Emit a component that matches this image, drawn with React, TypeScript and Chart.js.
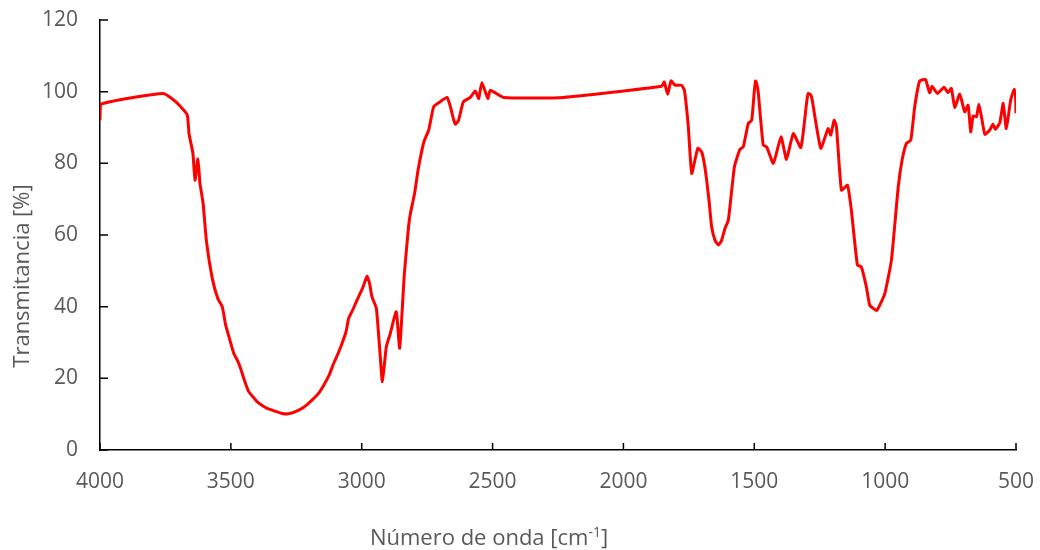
import { useEffect, useRef } from "react";
import { Chart, registerables } from "chart.js";

Chart.register(...registerables);

// FTIR spectrum: wavenumber (cm-1) and transmittance (%)
const wavenumbers = [
  4000, 3996, 3758, 3711, 3667, 3660, 3645, 3637, 3626, 3618, 3606, 3593, 3571, 3550, 3533, 3520,
  3510, 3489, 3475, 3463, 3450, 3432, 3415, 3400, 3380, 3361, 3330, 3304, 3280, 3253, 3220, 3190,
  3165, 3145, 3125, 3107, 3090, 3075, 3060, 3050, 3035, 3018, 2995, 2980, 2970, 2961, 2944, 2931,
  2921, 2906, 2891, 2868, 2855, 2837, 2821, 2814, 2798, 2785, 2770, 2760, 2744, 2725, 2700, 2674,
  2660, 2650, 2642, 2630, 2620, 2611, 2585, 2566, 2553, 2541, 2518, 2509, 2458, 2229, 1854, 1844,
  1831, 1818, 1803, 1778, 1767, 1752, 1739, 1716, 1701, 1690, 1682, 1672, 1663, 1650, 1637, 1625,
  1612, 1599, 1576, 1555, 1542, 1523, 1510, 1500, 1495, 1490, 1485, 1466, 1453, 1427, 1398, 1377,
  1351, 1322, 1300, 1294, 1285, 1279, 1246, 1218, 1208, 1195, 1186, 1167, 1144, 1129, 1106, 1091,
  1072, 1059, 1045, 1033, 1020, 1001, 976, 950, 935, 919, 902, 887, 868, 846, 830, 821,
  800, 775, 760, 747, 734, 715, 696, 683, 673, 664, 651, 642, 632, 619, 600, 588,
  579, 562, 549, 537, 520, 507, 502, 500,
];

const transmittance = [
  92, 96.5, 99.5, 97.2, 93.6, 88.3, 82.8, 75.3, 81.2, 74.4, 68.8, 58.1, 47.9, 42.3, 40, 34.9,
  32.3, 27, 25, 22.8, 19.8, 16.3, 14.8, 13.5, 12.4, 11.6, 10.8, 10.2, 10.1, 10.7, 12, 13.9,
  15.8, 18.1, 20.8, 24.2, 27, 29.8, 33, 36.7, 39, 41.8, 45.5, 48.5, 46.5, 42.8, 39.5, 27.9,
  19.1, 28.8, 32.5, 38.6, 28.4, 49.3, 62.3, 66, 71.6, 78, 83.7, 86.5, 89.3, 95.8, 97.2, 98.4,
  95.5, 92.5, 90.9, 92, 95, 97.2, 98.4, 100.2, 98.1, 102.5, 98.1, 100.4, 98.4, 98.4, 101.5, 102.7,
  99.3, 103, 101.8, 101.8, 100.4, 90.2, 77.2, 84.2, 83.2, 79.5, 75.3, 69, 62.3, 58.5, 57.2, 58.5,
  61.8, 64.2, 79, 83.9, 84.6, 91.1, 92, 100, 103, 102, 99.9, 85.1, 84.6, 80, 87.4, 81.1,
  88.3, 84.4, 97, 99.5, 99.2, 97.8, 84.2, 89.7, 87.9, 92, 90.2, 72.5, 73.9, 66.9, 51.6, 51.1,
  45.6, 40.4, 39.5, 38.9, 40.5, 43.7, 53, 73.4, 81, 85.5, 86.5, 95.8, 103, 103.4, 99.7, 101.5,
  99.5, 101.2, 99.7, 100.9, 95.6, 99.3, 94.4, 96.2, 88.8, 93.2, 93, 96.5, 93, 88.1, 89.3, 90.9,
  89.5, 91.3, 96.7, 89.7, 97.8, 100.6, 99, 94,
];

const xTickValues = [4000, 3500, 3000, 2500, 2000, 1500, 1000, 500];
const yTickValues = [0, 20, 40, 60, 80, 100, 120];

const xTitle = "Número de onda [cm";
const xTitleSup = "-1";
const xTitleEnd = "]";
const yTitle = "Transmitancia [%]";

const TEXT_COLOR = "#595959";
const FONT_FAMILY = "'Open Sans', 'DejaVu Sans', sans-serif";

// Tick marks pointing into the plot area, plus the two axis titles
const axisDecor = {
  id: "axisDecor",
  afterDraw(chart: any) {
    const { ctx, chartArea } = chart;
    const xs = chart.scales.x;
    const ys = chart.scales.y;
    ctx.save();
    ctx.strokeStyle = "#000";
    ctx.lineWidth = 1.5;
    ctx.beginPath();
    xs.ticks.forEach((t: any) => {
      const px = xs.getPixelForValue(t.value);
      ctx.moveTo(px, chartArea.bottom);
      ctx.lineTo(px, chartArea.bottom - 7);
    });
    ys.ticks.forEach((t: any) => {
      const py = ys.getPixelForValue(t.value);
      ctx.moveTo(chartArea.left, py);
      ctx.lineTo(chartArea.left + 8, py);
    });
    ctx.stroke();

    ctx.fillStyle = TEXT_COLOR;
    ctx.textBaseline = "alphabetic";
    // x-axis title with superscript
    const mainFont = `22px ${FONT_FAMILY}`;
    const supFont = `14px ${FONT_FAMILY}`;
    ctx.font = mainFont;
    const w1 = ctx.measureText(xTitle).width;
    const w3 = ctx.measureText(xTitleEnd).width;
    ctx.font = supFont;
    const w2 = ctx.measureText(xTitleSup).width;
    const total = w1 + w2 + w3;
    let x0 = 489 - total / 2;
    const baseY = 545;
    ctx.textAlign = "left";
    ctx.font = mainFont;
    ctx.fillText(xTitle, x0, baseY);
    x0 += w1;
    ctx.font = supFont;
    ctx.fillText(xTitleSup, x0, baseY - 8);
    x0 += w2;
    ctx.font = mainFont;
    ctx.fillText(xTitleEnd, x0, baseY);

    // y-axis title, rotated
    ctx.translate(23, 276);
    ctx.rotate(-Math.PI / 2);
    ctx.textAlign = "center";
    ctx.textBaseline = "middle";
    ctx.font = mainFont;
    ctx.fillText(yTitle, 0, 0);
    ctx.restore();
  },
};

export default function App() {
  const canvasRef = useRef<HTMLCanvasElement | null>(null);

  useEffect(() => {
    if (!canvasRef.current) return;
    const points = wavenumbers.map((w, i) => ({ x: w, y: transmittance[i] }));
    const chart = new Chart(canvasRef.current, {
      type: "line",
      data: {
        datasets: [
          {
            data: points,
            borderColor: "#FF0000",
            borderWidth: 3,
            pointRadius: 0,
            tension: 0.15,
            borderJoinStyle: "round",
            fill: false,
          },
        ],
      },
      options: {
        animation: false,
        responsive: true,
        maintainAspectRatio: false,
        layout: { padding: { left: 0, right: 24, top: 20, bottom: 0 } },
        plugins: {
          legend: { display: false },
          tooltip: { enabled: false },
        },
        scales: {
          x: {
            type: "linear",
            reverse: true,
            min: 500,
            max: 4000,
            afterBuildTicks: (scale: any) => {
              scale.ticks = xTickValues.map((v) => ({ value: v }));
            },
            afterFit: (scale: any) => {
              scale.height = 100;
              scale.paddingLeft = 0;
              scale.paddingRight = 0;
            },
            grid: { display: false, drawTicks: false, tickLength: 0 },
            border: { display: true, color: "#000", width: 1.5 },
            ticks: {
              color: TEXT_COLOR,
              font: { family: FONT_FAMILY, size: 21 },
              padding: 19,
              maxRotation: 0,
              autoSkip: false,
              callback: (v: any) => String(v),
            },
          },
          y: {
            type: "linear",
            min: 0,
            max: 120,
            afterBuildTicks: (scale: any) => {
              scale.ticks = yTickValues.map((v) => ({ value: v }));
            },
            afterFit: (scale: any) => {
              scale.width = 100;
              scale.paddingTop = 0;
              scale.paddingBottom = 0;
            },
            grid: { display: false, drawTicks: false, tickLength: 0 },
            border: { display: true, color: "#000", width: 1.5 },
            ticks: {
              color: TEXT_COLOR,
              font: { family: FONT_FAMILY, size: 21 },
              padding: 22,
              autoSkip: false,
              callback: (v: any) => String(v),
            },
          },
        },
      },
      plugins: [axisDecor],
    });
    return () => chart.destroy();
  }, []);

  return (
    <div style={{ position: "fixed", left: 0, top: 0, width: 1040, height: 550, background: "#fff" }}>
      <canvas ref={canvasRef} />
    </div>
  );
}
